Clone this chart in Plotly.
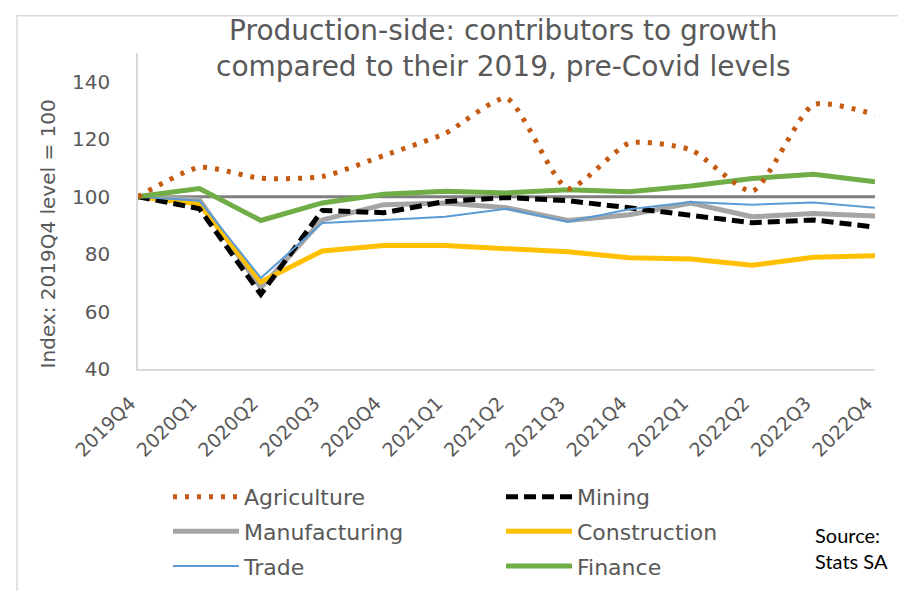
import plotly.graph_objects as go

quarters = ["2019Q4", "2020Q1", "2020Q2", "2020Q3", "2020Q4", "2021Q1", "2021Q2",
            "2021Q3", "2021Q4", "2022Q1", "2022Q2", "2022Q3", "2022Q4"]

agriculture = [100, 110.2, 106.4, 107.0, 114.3, 122.0, 134.2, 102.8, 118.6, 116.3, 101.9, 132.0, 128.6]
mining = [100, 95.8, 66.0, 95.2, 94.4, 98.3, 99.7, 98.6, 96.1, 93.3, 90.9, 91.9, 89.4]
manufacturing = [100, 98.9, 68.3, 91.9, 97.2, 97.8, 96.1, 91.7, 93.7, 97.8, 93.0, 94.1, 93.3]
construction = [100, 97.4, 70.3, 81.1, 83.0, 83.0, 81.9, 80.8, 78.7, 78.3, 76.1, 78.9, 79.4]
trade = [100, 98.6, 71.7, 90.8, 91.9, 93.0, 95.8, 91.3, 95.6, 98.1, 97.2, 98.0, 96.1]
finance = [100, 102.8, 91.7, 97.8, 100.8, 101.9, 101.3, 102.4, 101.7, 103.7, 106.3, 107.8, 105.2]
baseline = [100] * len(quarters)

FONT = "DejaVu Sans"
GREY_TXT = "#595959"

fig = go.Figure()

# 100 reference line (no legend entry)
fig.add_trace(go.Scatter(x=quarters, y=baseline, mode="lines", showlegend=False,
                         line=dict(color="#7F7F7F", width=3), hoverinfo="skip"))

# left legend column: Agriculture / Manufacturing / Trade
# right legend column: Mining / Construction / Finance
fig.add_trace(go.Scatter(x=quarters, y=manufacturing, name="Manufacturing", mode="lines",
                         line=dict(color="#A5A5A5", width=5), legend="legend", legendrank=2,
                         legendgroup="manu"))
fig.add_trace(go.Scatter(x=quarters, y=construction, name="Construction", mode="lines",
                         line=dict(color="#FFC000", width=5), legend="legend2", legendrank=2,
                         legendgroup="cons"))
fig.add_trace(go.Scatter(x=quarters, y=mining, name="Mining", mode="lines",
                         line=dict(color="black", width=5, dash="12px,6px"),
                         legend="legend2", legendrank=1, legendgroup="mini"))
fig.add_trace(go.Scatter(x=quarters, y=trade, name="Trade", mode="lines",
                         line=dict(color="#5B9BD5", width=2), legend="legend", legendrank=3,
                         legendgroup="trad"))
fig.add_trace(go.Scatter(x=quarters, y=finance, name="Finance", mode="lines",
                         line=dict(color="#70AD47", width=5), legend="legend2", legendrank=3,
                         legendgroup="fina"))
fig.add_trace(go.Scatter(x=quarters, y=agriculture, name="Agriculture", mode="lines",
                         line=dict(color="#C55A11", width=5, dash="4px,8px", shape="spline",
                                   smoothing=0.6),
                         legend="legend", legendrank=1, legendgroup="agri"))

legend_style = dict(font=dict(family=FONT, size=22, color=GREY_TXT), orientation="v",
                    tracegroupgap=3, bgcolor="rgba(0,0,0,0)", itemwidth=66,
                    yanchor="top", xanchor="left")

fig.update_layout(
    width=906, height=591,
    margin=dict(l=130, r=39, t=45, b=215),
    paper_bgcolor="white", plot_bgcolor="white",
    font=dict(family=FONT, color=GREY_TXT),
    legend=dict(x=(160 - 130) / 737, y=(376 - 488) / 331, **legend_style),
    legend2=dict(x=(493 - 130) / 737, y=(376 - 488) / 331, **legend_style),
    shapes=[dict(type="rect", xref="paper", yref="paper",
                 x0=(9 - 130) / 737, x1=1.3, y0=-1.0, y1=(376 - 6) / 331,
                 line=dict(color="#D9D9D9", width=1.5), layer="below")],
    annotations=[
        # chart title
        dict(text="Production-side: contributors to growth<br>compared to their 2019, pre-Covid levels",
             xref="paper", yref="paper", x=(495 - 130) / 737, y=(376 - 40) / 331,
             xanchor="center", yanchor="middle", align="center", showarrow=False,
             font=dict(family=FONT, size=28, color=GREY_TXT)),
        dict(text="Index: 2019Q4 level = 100", xref="paper", yref="paper",
             x=(40 - 130) / 737, y=(376 - 235) / 331, textangle=-90, showarrow=False,
             xanchor="center", yanchor="middle",
             font=dict(family=FONT, size=20, color=GREY_TXT)),
        dict(text="Source:<br>Stats SA", xref="paper", yref="paper",
             x=(805 - 130) / 737, y=(376 - 564) / 331, xanchor="left", yanchor="middle",
             align="left", showarrow=False, font=dict(family="Lato", size=20, color="black")),
    ],
)

fig.update_xaxes(showgrid=False, showline=True, linecolor="#D9D9D9", linewidth=1.5,
                 tickangle=-45, tickfont=dict(family=FONT, size=19, color=GREY_TXT),
                 ticks="", ticklabelstandoff=14, ticklabelshift=-8, range=[0, 12],
                 zeroline=False)
fig.update_yaxes(showgrid=False, showline=True, linecolor="#D9D9D9", linewidth=1.5,
                 range=[40, 150], tickvals=[40, 60, 80, 100, 120, 140],
                 tickfont=dict(family=FONT, size=20, color=GREY_TXT),
                 ticks="", ticklabelstandoff=22, zeroline=False)

fig.write_html("out.html")
